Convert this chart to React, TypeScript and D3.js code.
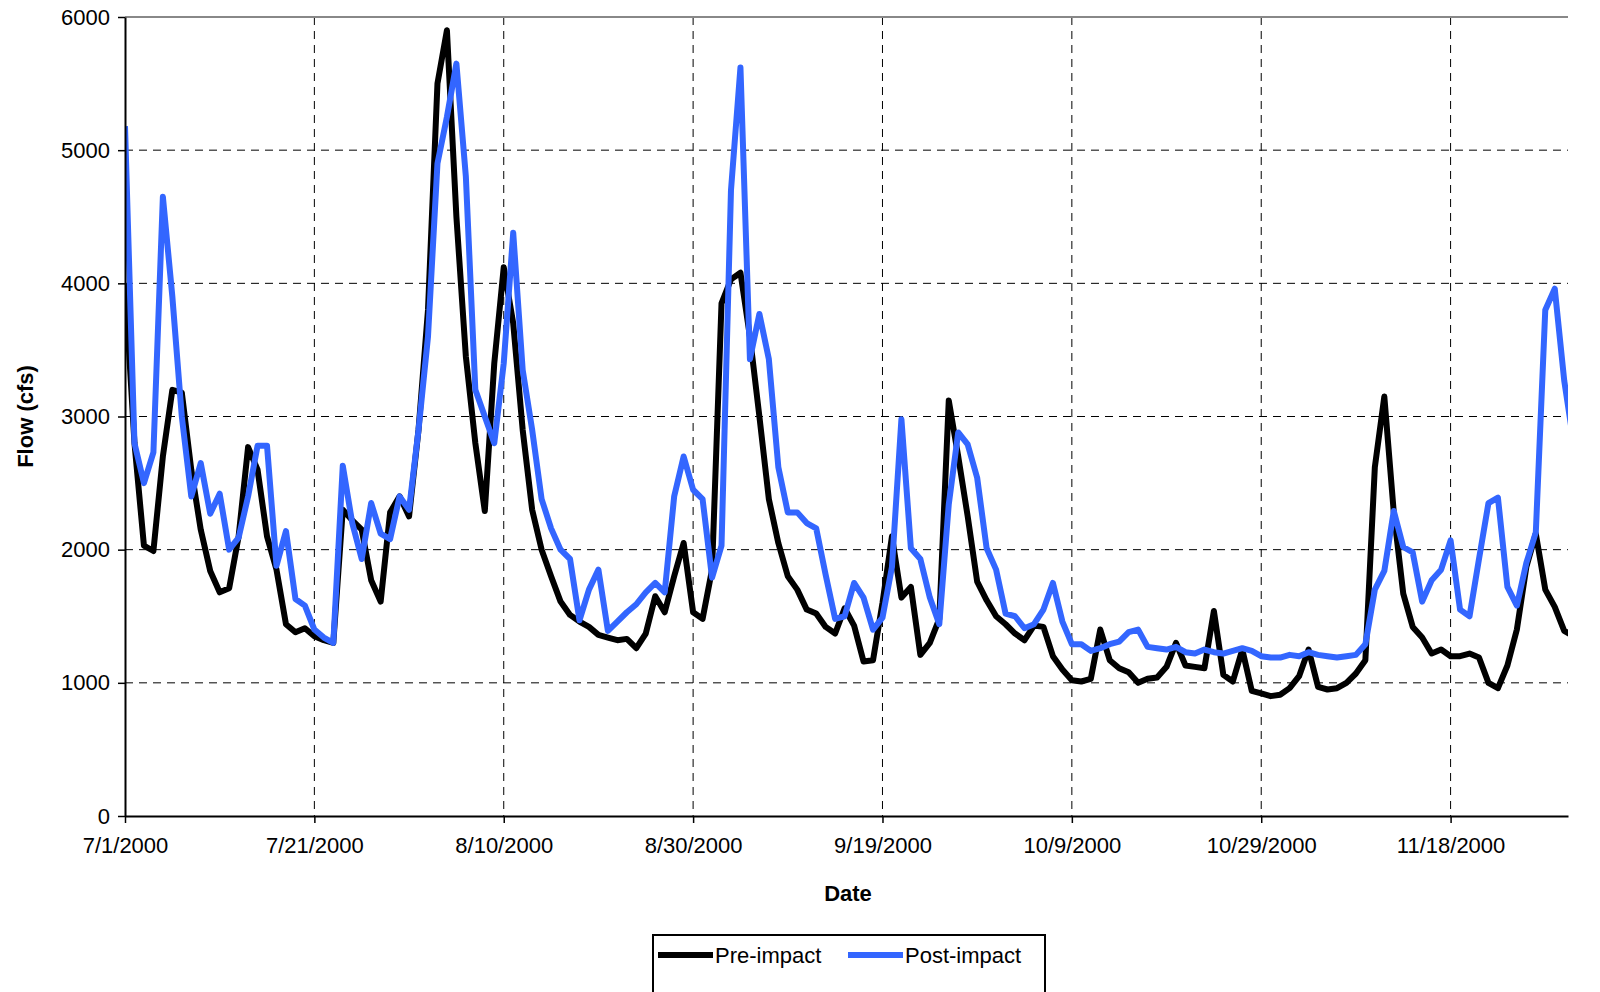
import { useEffect, useRef } from "react";
import * as d3 from "d3";

// ── Data ──────────────────────────────────────────────────────────────────────
const startDate = new Date(2000, 6, 1);
const tickLabels = ["7/1/2000", "7/21/2000", "8/10/2000", "8/30/2000", "9/19/2000", "10/9/2000", "10/29/2000", "11/18/2000"];
const yTicks = [0, 1000, 2000, 3000, 4000, 5000, 6000];

const preImpact = [
  4000, 2800, 2030, 1990, 2700, 3200, 3180, 2600, 2150, 1840, 1680, 1710, 2100, 2770, 2600, 2100,
  1850, 1440, 1380, 1410, 1350, 1320, 1300, 2300, 2220, 2150, 1770, 1610, 2280, 2400, 2250, 2900,
  3800, 5500, 5900, 4500, 3450, 2800, 2290, 3400, 4120, 3700, 2900, 2300, 2000, 1800, 1610, 1510,
  1460, 1420, 1360, 1340, 1320, 1330, 1260, 1370, 1650, 1530, 1800, 2050, 1530, 1480, 1850, 3850,
  4030, 4080, 3600, 3000, 2380, 2050, 1800, 1700, 1550, 1520, 1420, 1370, 1560, 1430, 1160, 1170,
  1600, 2100, 1640, 1720, 1210, 1300, 1480, 3120, 2700, 2250, 1760, 1620, 1500, 1440, 1370, 1320,
  1430, 1420, 1200, 1100, 1020, 1010, 1030, 1400, 1170, 1110, 1080, 1000, 1030, 1040, 1120, 1300,
  1130, 1120, 1110, 1540, 1060, 1010, 1250, 940, 920, 900, 910, 960, 1050, 1250, 970, 950,
  960, 1000, 1070, 1170, 2620, 3150, 2280, 1670, 1420, 1340, 1220, 1250, 1200, 1200, 1220, 1190,
  1000, 960, 1130, 1400, 1870, 2120, 1700, 1570, 1390, 1350,
];

const postImpact = [
  5180, 2800, 2500, 2730, 4650, 3900, 3000, 2400, 2650, 2270, 2420, 2000, 2090, 2400, 2780, 2780,
  1880, 2140, 1630, 1580, 1400, 1340, 1300, 2630, 2200, 1930, 2350, 2120, 2080, 2400, 2300, 2900,
  3600, 4900, 5250, 5650, 4800, 3200, 3000, 2800, 3400, 4380, 3350, 2900, 2380, 2160, 2000, 1930,
  1470, 1700, 1850, 1390, 1460, 1530, 1590, 1680, 1750, 1680, 2400, 2700, 2450, 2380, 1790, 2030,
  4700, 5620, 3430, 3770, 3430, 2620, 2280, 2280, 2200, 2160, 1810, 1480, 1500, 1750, 1640, 1400,
  1490, 1870, 2980, 2010, 1930, 1640, 1440, 2340, 2880, 2790, 2540, 2010, 1850, 1520, 1500, 1410,
  1440, 1550, 1750, 1460, 1290, 1290, 1240, 1260, 1290, 1310, 1380, 1400, 1270, 1260, 1250, 1270,
  1230, 1220, 1250, 1230, 1220, 1240, 1260, 1240, 1200, 1190, 1190, 1210, 1200, 1230, 1210, 1200,
  1190, 1200, 1210, 1290, 1700, 1840, 2290, 2020, 1980, 1610, 1770, 1850, 2070, 1550, 1500, 1930,
  2350, 2390, 1720, 1580, 1900, 2130, 3800, 3960, 3270, 2800,
];

const seriesNames = ["Pre-impact", "Post-impact"];
const seriesColors = ["#000000", "#3366ff"];

// ── Component ─────────────────────────────────────────────────────────────────
export default function App() {
  const svgRef = useRef<SVGSVGElement>(null);

  useEffect(() => {
    if (!svgRef.current) return;
    document.body.style.margin = "0";
    document.body.style.overflow = "hidden";
    const width = 1600;
    const height = 992;
    const left = 125;
    const right = 1568;
    const top = 17;
    const bottom = 816;
    const font = "Liberation Sans, Arial, sans-serif";

    const dayMs = 86400000;
    const endDate = new Date(startDate.getTime() + 152.4 * dayMs);
    const x = d3.scaleTime().domain([startDate, endDate]).range([left, right]);
    const y = d3.scaleLinear().domain([0, 6000]).range([bottom, top]);
    const dateAt = (i: number) => new Date(startDate.getTime() + i * dayMs);

    const svg = d3.select(svgRef.current);
    svg.selectAll("*").remove();
    svg.attr("viewBox", `0 0 ${width} ${height}`);

    svg.append("defs").append("clipPath").attr("id", "plot-clip")
      .append("rect").attr("x", left).attr("y", 0).attr("width", right - left).attr("height", bottom + 5);

    // grid
    const tickDates = tickLabels.map((_, i) => dateAt(i * 20));
    svg.append("g").selectAll("line").data(yTicks.slice(1, -1)).enter().append("line")
      .attr("x1", left).attr("x2", right).attr("y1", (d) => y(d)).attr("y2", (d) => y(d))
      .attr("stroke", "#000").attr("stroke-width", 1).attr("stroke-dasharray", "8 6");
    svg.append("g").selectAll("line").data(tickDates.slice(1)).enter().append("line")
      .attr("x1", (d) => x(d)).attr("x2", (d) => x(d)).attr("y1", top).attr("y2", bottom)
      .attr("stroke", "#000").attr("stroke-width", 1).attr("stroke-dasharray", "8 6");

    // top border
    svg.append("line").attr("x1", left).attr("x2", right).attr("y1", top).attr("y2", top)
      .attr("stroke", "#888").attr("stroke-width", 2);

    // lines
    const line = d3.line<number>().x((_, i) => x(dateAt(i))).y((d) => y(d));
    const plot = svg.append("g").attr("clip-path", "url(#plot-clip)");
    [preImpact, postImpact].forEach((data, k) => {
      plot.append("path").datum(data).attr("d", line).attr("fill", "none")
        .attr("stroke", seriesColors[k]).attr("stroke-width", 6).attr("stroke-linejoin", "round");
    });

    // axes
    const yAxis = svg.append("g").attr("transform", `translate(${left},0)`)
      .call(d3.axisLeft(y).tickValues(yTicks).tickSize(7).tickSizeOuter(0).tickPadding(8)
        .tickFormat(d3.format("d")));
    const xAxis = svg.append("g").attr("transform", `translate(0,${bottom})`)
      .call(d3.axisBottom(x).tickValues(tickDates).tickSize(7).tickSizeOuter(0).tickPadding(14)
        .tickFormat((_, i) => tickLabels[i]));
    [xAxis, yAxis].forEach((a) => {
      a.select(".domain").attr("stroke", "#000").attr("stroke-width", 2);
      a.selectAll(".tick line").attr("stroke", "#000").attr("stroke-width", 1.5);
      a.selectAll("text").attr("fill", "#000").attr("font-size", 22).attr("font-family", font);
    });

    // titles
    svg.append("text").attr("x", 848).attr("y", 901).attr("text-anchor", "middle")
      .attr("font-size", 22).attr("font-weight", "bold").attr("font-family", font).text("Date");
    svg.append("text").attr("transform", `translate(33,${(top + bottom) / 2}) rotate(-90)`)
      .attr("text-anchor", "middle").attr("font-size", 22).attr("font-weight", "bold")
      .attr("font-family", font).text("Flow (cfs)");

    // legend
    const lg = svg.append("g");
    lg.append("rect").attr("x", 653).attr("y", 935).attr("width", 392).attr("height", 60)
      .attr("fill", "#fff").attr("stroke", "#000").attr("stroke-width", 2);
    const legendX = [658, 848];
    seriesNames.forEach((name, k) => {
      lg.append("line").attr("x1", legendX[k]).attr("x2", legendX[k] + 55)
        .attr("y1", 955).attr("y2", 955).attr("stroke", seriesColors[k]).attr("stroke-width", 6);
      lg.append("text").attr("x", legendX[k] + 57).attr("y", 963).attr("font-size", 22)
        .attr("font-family", font).text(name);
    });
  }, []);

  return (
    <svg ref={svgRef} width={1600} height={992}
      style={{ position: "absolute", left: 0, top: 0, background: "#fff", display: "block" }} />
  );
}
